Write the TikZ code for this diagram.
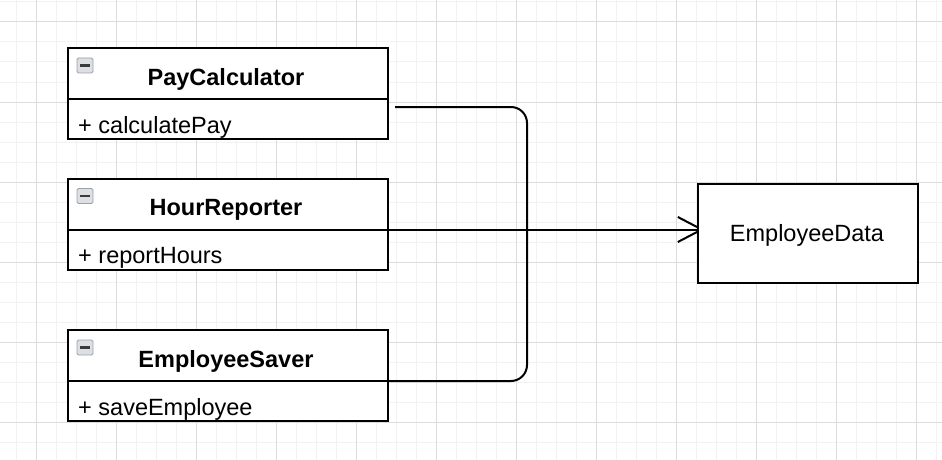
\documentclass[tikz,border=0pt]{standalone}
\usepackage{fontspec}
\setmainfont{Liberation Sans}
\usetikzlibrary{arrows.meta}
\pgfdeclarelayer{grid}
\pgfdeclarelayer{edges}
\pgfsetlayers{grid,edges,main}
\definecolor{minorgrid}{HTML}{F2F2F2}
\definecolor{majorgrid}{HTML}{DCDCDC}
\definecolor{iconfill}{HTML}{DCDFE4}
\definecolor{iconborder}{HTML}{9DA1A8}
\definecolor{iconbar}{HTML}{3A3A3A}
\begin{document}
\begin{tikzpicture}[x=1pt,y=-1pt,
  font=\fontsize{23.5}{28}\selectfont,
  classbox/.style={draw, line width=2pt, fill=white, minimum width=320pt, anchor=north west, inner sep=0pt},
  plainbox/.style={draw, line width=2pt, fill=white, minimum width=220pt, minimum height=99pt, anchor=north west, inner sep=0pt},
  classtitle/.style={font=\fontsize{23.5}{28}\selectfont\bfseries, anchor=base, inner sep=0pt},
  member/.style={anchor=base west, inner sep=0pt},
  divider/.style={line width=2pt},
  conn/.style={line width=2pt},
  collapseicon/.pic={
    \draw[fill=iconfill, draw=iconborder, line width=0.9pt, rounded corners=1.5pt] (0,0) rectangle (16,15);
    \fill[iconbar] (2.8,6) rectangle (13.2,8.8);
  }
]
\useasboundingbox (0,0) rectangle (942,460);
% grid
\begin{pgfonlayer}{grid}
  \fill[white] (0,0) rectangle (942,460);
  \foreach \gx in {16,36,...,936} {\draw[minorgrid, line width=1pt] (\gx,0) -- (\gx,460);}
  \foreach \gy in {2,22,...,460} {\draw[minorgrid, line width=1pt] (0,\gy) -- (942,\gy);}
  \foreach \gx in {36,116,...,936} {\draw[majorgrid, line width=1pt] (\gx,0) -- (\gx,460);}
  \foreach \gy in {22,102,...,460} {\draw[majorgrid, line width=1pt] (0,\gy) -- (942,\gy);}
\end{pgfonlayer}

% PayCalculator
\node[classbox, minimum height=91pt] (pc) at (67,47) {};
\coordinate (pcdivl) at ([yshift=-52pt]pc.north west);
\coordinate (pcdivr) at ([yshift=-52pt]pc.north east);
\draw[divider] (pcdivl) -- (pcdivr);
\pic at ([xshift=10pt,yshift=-11pt]pc.north west) {collapseicon};
\node[classtitle] (pct) at (226,85) {PayCalculator};
\node[member] (pcm) at (78,133.5) {+ calculatePay};

% HourReporter
\node[classbox, minimum height=91.5pt] (hr) at (67,177.5) {};
\coordinate (hrdivl) at ([yshift=-52pt]hr.north west);
\coordinate (hrdivr) at ([yshift=-52pt]hr.north east);
\draw[divider] (hrdivl) -- (hrdivr);
\pic at ([xshift=10pt,yshift=-11pt]hr.north west) {collapseicon};
\node[classtitle] (hrt) at (226,215.5) {HourReporter};
\node[member] (hrm) at (78,263.5) {+ reportHours};

% EmployeeSaver
\node[classbox, minimum height=91pt] (es) at (67,329) {};
\coordinate (esdivl) at ([yshift=-52pt]es.north west);
\coordinate (esdivr) at ([yshift=-52pt]es.north east);
\draw[divider] (esdivl) -- (esdivr);
\pic at ([xshift=10pt,yshift=-11pt]es.north west) {collapseicon};
\node[classtitle] (est) at (226,367) {EmployeeSaver};
\node[member] (esm) at (78,415) {+ saveEmployee};

% EmployeeData
\node[plainbox] (ed) at (697,183) {};
\node[anchor=base, inner sep=0pt] (edt) at (807,241.5) {EmployeeData};

% connectors
\coordinate (bus) at (527,229.5);
\coordinate (pcout) at ([xshift=6pt]pc.east |- 0,107);
\begin{pgfonlayer}{edges}
  \draw[conn, rounded corners=16pt] (pcout) -- (pcout -| bus) -- (bus |- esdivr) -- (esdivr);
  \draw[conn, -{Straight Barb[length=24pt, width=25pt, line width=2pt]}, shorten >=-7pt] (hrdivr) -- (hrdivr -| ed.west);
\end{pgfonlayer}
\end{tikzpicture}
\end{document}
